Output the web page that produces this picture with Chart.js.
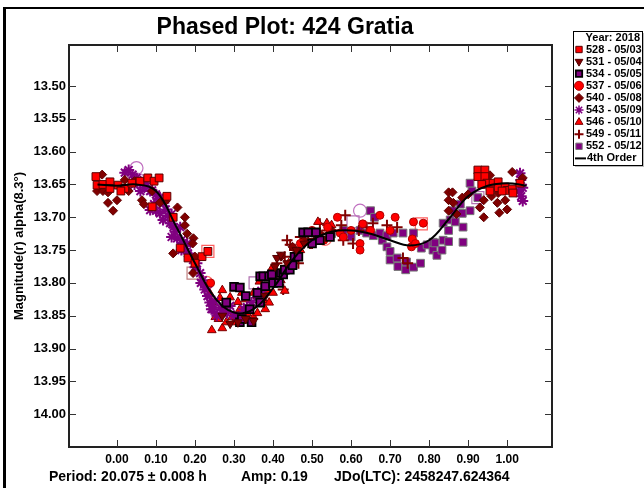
<!DOCTYPE html>
<html>
<head>
<meta charset="utf-8">
<script src="https://cdn.jsdelivr.net/npm/chart.js"></script>
<style>
  html, body { margin: 0; padding: 0; background: #fff; }
  #wrap { width: 644px; height: 488px; }
</style>
</head>
<body>
<div id="wrap"><canvas id="chart" width="644" height="488"></canvas></div>
<script>
// axis ticks
const xTicks = [0.00, 0.10, 0.20, 0.30, 0.40, 0.50, 0.60, 0.70, 0.80, 0.90, 1.00];
const yTicks = [13.50, 13.55, 13.60, 13.65, 13.70, 13.75, 13.80, 13.85, 13.90, 13.95, 14.00];

// legend labels
const legendTitle = 'Year: 2018';
const sessionLabels = ['528 - 05/03', '531 - 05/04', '534 - 05/05', '537 - 05/06', '540 - 05/08',
    '543 - 05/09', '546 - 05/10', '549 - 05/11', '552 - 05/12'];
const fitLabel = '4th Order';

// [phase, magnitude] per session
const s528 = [[-0.054,13.638],[-0.051,13.651],[-0.036,13.650],[-0.018,13.646],[-0.018,13.656],[0.003,13.651],
    [0.020,13.656],[0.010,13.660],[0.038,13.648],[0.059,13.645],[0.079,13.640],[0.095,13.645],[0.108,13.640],
    [0.090,13.684],[0.128,13.668],[0.144,13.700],[0.162,13.747],[0.182,13.762],[0.218,13.760],[0.233,13.752],
    [0.200,13.770],[0.925,13.628],[0.943,13.628],[0.925,13.638],[0.943,13.638],[0.948,13.648],[0.964,13.648],
    [0.977,13.646],[0.977,13.655],[0.995,13.654],[1.000,13.659],[1.013,13.657],[1.033,13.648],[1.015,13.663],
    [0.987,13.660],[0.956,13.660],[0.935,13.650]];
const s531 = [[0.270,13.850],[0.290,13.862],[0.310,13.860],[0.330,13.855],[0.350,13.858],[0.380,13.820],
    [0.405,13.775],[0.410,13.762],[0.420,13.757],[0.436,13.770],[0.460,13.750],[0.480,13.740]];
const s534 = [[0.280,13.830],[0.300,13.806],[0.315,13.807],[0.315,13.860],[0.320,13.855],[0.330,13.820],
    [0.340,13.840],[0.345,13.860],[0.360,13.815],[0.367,13.790],[0.367,13.830],[0.375,13.790],[0.380,13.805],
    [0.390,13.790],[0.397,13.787],[0.400,13.800],[0.415,13.800],[0.420,13.785],[0.426,13.787],[0.430,13.780],
    [0.443,13.780],[0.450,13.773],[0.455,13.760],[0.465,13.760],[0.477,13.723],[0.490,13.723],[0.500,13.740],
    [0.510,13.723],[0.520,13.735],[0.546,13.730]];
const s537 = [[0.240,13.800],[0.470,13.740],[0.500,13.720],[0.530,13.735],[0.540,13.715],[0.565,13.700],
    [0.572,13.724],[0.580,13.730],[0.600,13.720],[0.623,13.740],[0.623,13.750],[0.630,13.710],[0.650,13.720],
    [0.674,13.697],[0.700,13.720],[0.713,13.700],[0.755,13.745],[0.757,13.733],[0.760,13.707],[0.765,13.740],
    [0.785,13.709]];
const s540 = [[-0.051,13.660],[-0.038,13.635],[-0.036,13.660],[-0.023,13.662],[-0.023,13.678],[-0.010,13.690],
    [0.000,13.674],[0.020,13.643],[0.030,13.660],[0.045,13.645],[0.064,13.674],[0.069,13.680],[0.090,13.660],
    [0.110,13.678],[0.125,13.675],[0.144,13.755],[0.155,13.685],[0.174,13.700],[0.174,13.712],[0.180,13.725],
    [0.196,13.732],[0.194,13.740],[0.200,13.760],[0.195,13.785],[0.420,13.760],[0.450,13.745],[0.460,13.755],
    [0.480,13.735],[0.520,13.725],[0.550,13.720],[0.850,13.662],[0.860,13.662],[0.850,13.674],[0.862,13.678],
    [0.850,13.690],[0.870,13.695],[0.885,13.670],[0.900,13.665],[0.930,13.685],[0.940,13.674],[0.940,13.700],
    [0.956,13.636],[0.958,13.658],[0.960,13.668],[0.977,13.663],[0.975,13.678],[0.980,13.693],[0.995,13.674],
    [1.000,13.688],[1.013,13.631],[1.040,13.640]];
const s543 = [[0.020,13.632],[0.030,13.628],[0.040,13.635],[0.050,13.640],[0.045,13.650],[0.060,13.645],
    [0.060,13.660],[0.070,13.655],[0.075,13.648],[0.085,13.660],[0.090,13.659],[0.100,13.665],[0.105,13.672],
    [0.110,13.670],[0.120,13.678],[0.125,13.688],[0.085,13.689],[0.095,13.680],[0.100,13.690],[0.110,13.694],
    [0.118,13.704],[0.130,13.698],[0.136,13.709],[0.140,13.695],[0.140,13.730],[0.145,13.715],[0.149,13.722],
    [0.154,13.732],[0.162,13.715],[0.165,13.735],[0.165,13.750],[0.170,13.739],[0.175,13.748],[0.180,13.740],
    [0.182,13.755],[0.190,13.760],[0.195,13.765],[0.200,13.776],[0.205,13.770],[0.213,13.785],[0.215,13.800],
    [0.220,13.796],[0.225,13.810],[0.230,13.806],[0.232,13.820],[0.238,13.830],[0.242,13.840],[0.246,13.840],
    [0.250,13.828],[0.256,13.850],[0.265,13.838],[0.270,13.845],[0.282,13.846],[0.290,13.835],[0.300,13.850],
    [0.315,13.852],[0.325,13.840],[0.333,13.837],[0.345,13.830],[0.360,13.822],[0.370,13.812],[1.033,13.633],
    [1.035,13.643],[1.030,13.660],[1.040,13.655],[1.036,13.668],[1.040,13.675]];
const s546 = [[0.238,13.816],[0.243,13.829],[0.252,13.852],[0.243,13.872],[0.260,13.855],[0.264,13.823],
    [0.270,13.811],[0.270,13.869],[0.275,13.840],[0.280,13.860],[0.282,13.834],[0.290,13.822],[0.295,13.852],
    [0.300,13.860],[0.310,13.829],[0.315,13.840],[0.310,13.852],[0.320,13.815],[0.330,13.825],[0.333,13.846],
    [0.336,13.857],[0.345,13.834],[0.350,13.852],[0.350,13.815],[0.360,13.846],[0.360,13.820],[0.365,13.798],
    [0.375,13.826],[0.380,13.840],[0.387,13.811],[0.390,13.830],[0.387,13.793],[0.395,13.780],[0.400,13.815],
    [0.410,13.799],[0.420,13.796],[0.426,13.780],[0.430,13.812],[0.440,13.770],[0.450,13.765],[0.470,13.750],
    [0.480,13.738],[0.500,13.722],[0.515,13.707],[0.538,13.709],[0.550,13.712]];
const s549 = [[0.410,13.770],[0.426,13.810],[0.430,13.760],[0.436,13.735],[0.444,13.742],[0.455,13.750],
    [0.465,13.770],[0.470,13.730],[0.490,13.725],[0.495,13.740],[0.500,13.740],[0.505,13.733],[0.520,13.710],
    [0.538,13.720],[0.550,13.720],[0.575,13.712],[0.580,13.735],[0.585,13.697],[0.605,13.740],[0.620,13.720],
    [0.640,13.715],[0.656,13.709],[0.692,13.712],[0.718,13.715],[0.733,13.762],[0.745,13.770]];
const s552 = [[0.550,13.725],[0.580,13.720],[0.600,13.730],[0.623,13.720],[0.640,13.724],[0.650,13.690],
    [0.657,13.728],[0.660,13.700],[0.674,13.724],[0.680,13.735],[0.692,13.728],[0.692,13.745],[0.700,13.752],
    [0.700,13.765],[0.708,13.724],[0.718,13.762],[0.720,13.775],[0.733,13.724],[0.740,13.780],[0.742,13.768],
    [0.760,13.724],[0.760,13.776],[0.778,13.770],[0.780,13.747],[0.795,13.742],[0.810,13.750],[0.810,13.738],
    [0.815,13.739],[0.820,13.758],[0.833,13.750],[0.836,13.709],[0.836,13.735],[0.850,13.737],[0.850,13.720],
    [0.854,13.704],[0.860,13.690],[0.867,13.707],[0.880,13.680],[0.885,13.694],[0.887,13.715],[0.887,13.738],
    [0.905,13.690],[0.905,13.648],[0.910,13.660],[0.925,13.670]];

// rejected points (drawn hollow)
const rejRedSq = [[0.233,13.752],[0.780,13.710]];
const rejBrownSq = [[0.195,13.785]];
const rejRedCirc = [[0.230,13.800],[0.533,13.733]];
const rejPurpleCirc = [[0.050,13.625],[0.055,13.643],[0.623,13.690]];
const rejPurpleSq = [[0.354,13.800],[0.605,13.707],[0.925,13.670]];

// 4th order fit
const fitPhase = [-0.05, 0.00, 0.05, 0.10, 0.15, 0.20, 0.25, 0.30, 0.35, 0.40, 0.45, 0.50,
    0.55, 0.60, 0.65, 0.70, 0.75, 0.80, 0.85, 0.90, 0.95, 1.00, 1.05];
const fitMag = [13.650, 13.652, 13.650, 13.660, 13.712, 13.770, 13.822, 13.845, 13.840, 13.808, 13.765, 13.735,
    13.722, 13.720, 13.725, 13.735, 13.743, 13.735, 13.703, 13.668, 13.652, 13.648, 13.652];

const FONT = '"Liberation Sans", Arial, sans-serif';

const toXY = arr => arr.map(p => ({ x: p[0], y: p[1] }));

function pointSet(label, data, style) {
    return Object.assign({
        label: label,
        data: toXY(data),
        showLine: false,
        pointHoverRadius: 0
    }, style);
}

const sessionStyles = [
    { pointStyle: 'rect', pointRadius: 5.5, backgroundColor: '#ff0000', borderColor: '#5a0000', pointBorderWidth: 1 },
    { pointStyle: 'triangle', pointRotation: 180, pointRadius: 5, backgroundColor: '#800000', borderColor: '#500000', pointBorderWidth: 1 },
    { pointStyle: 'rect', pointRadius: 5.5, backgroundColor: '#800080', borderColor: '#000000', pointBorderWidth: 1.8 },
    { pointStyle: 'circle', pointRadius: 4, backgroundColor: '#ff0000', borderColor: '#b00000', pointBorderWidth: 1 },
    { pointStyle: 'rectRot', pointRadius: 4.5, backgroundColor: '#800000', borderColor: '#600000', pointBorderWidth: 1 },
    { pointStyle: 'star', pointRadius: 5.5, backgroundColor: '#800080', borderColor: '#800080', pointBorderWidth: 2 },
    { pointStyle: 'triangle', pointRadius: 5, backgroundColor: '#ff0000', borderColor: '#7a0000', pointBorderWidth: 1 },
    { pointStyle: 'cross', pointRadius: 5.5, backgroundColor: '#800000', borderColor: '#800000', pointBorderWidth: 2 },
    { pointStyle: 'rect', pointRadius: 5.5, backgroundColor: '#800080', borderColor: '#777777', pointBorderWidth: 1 }
];
const sessionData = [s528, s531, s534, s537, s540, s543, s546, s549, s552];

const hollow = (style, color, r) => ({ pointStyle: style, pointRadius: r, backgroundColor: 'rgba(0,0,0,0)',
    borderColor: color, pointBorderWidth: 1.2 });

const datasets = [];
datasets.push({
    label: fitLabel,
    data: fitPhase.map((p, i) => ({ x: p, y: fitMag[i] })),
    showLine: true,
    borderColor: '#000',
    borderWidth: 2,
    pointRadius: 0,
    tension: 0.4,
    order: -1
});
sessionData.forEach((d, i) => datasets.push(pointSet(sessionLabels[i], d, sessionStyles[i])));
datasets.push(pointSet('', rejRedSq, hollow('rect', '#ff6060', 8.5)));
datasets.push(pointSet('', rejBrownSq, hollow('rect', '#c08080', 8.5)));
datasets.push(pointSet('', rejRedCirc, hollow('circle', '#ff7070', 6.5)));
datasets.push(pointSet('', rejPurpleCirc, hollow('circle', '#c070c0', 6.5)));
datasets.push(pointSet('', rejPurpleSq, hollow('rect', '#b070b0', 8.5)));

// frame, title, footer, inward ticks and boxed legend
const decor = {
    id: 'decor',
    afterDraw(chart) {
        const ctx = chart.ctx;
        const a = chart.chartArea;
        const xs = chart.scales.x, ys = chart.scales.y;
        ctx.save();

        ctx.fillStyle = '#000';
        ctx.fillRect(3, 7, 3, 481);
        ctx.fillRect(3, 7, 641, 2);

        ctx.strokeStyle = '#222';
        ctx.lineWidth = 2;
        ctx.strokeRect(a.left, a.top, a.right - a.left, a.bottom - a.top);

        ctx.lineWidth = 1;
        ctx.strokeStyle = '#333';
        ctx.beginPath();
        ys.ticks.forEach(t => {
            const y = Math.round(ys.getPixelForValue(t.value)) + 0.5;
            ctx.moveTo(a.left, y); ctx.lineTo(a.left + 7, y);
            ctx.moveTo(a.right, y); ctx.lineTo(a.right - 7, y);
        });
        xs.ticks.forEach(t => {
            const x = Math.round(xs.getPixelForValue(t.value)) + 0.5;
            ctx.moveTo(x, a.top); ctx.lineTo(x, a.top + 7);
            ctx.moveTo(x, a.bottom); ctx.lineTo(x, a.bottom - 7);
        });
        ctx.stroke();

        ctx.fillStyle = '#000';
        ctx.textBaseline = 'middle';
        ctx.textAlign = 'center';
        ctx.font = 'bold 23px ' + FONT;
        ctx.fillText('Phased Plot: 424 Gratia', 285, 28);

        ctx.textAlign = 'left';
        ctx.font = 'bold 14px ' + FONT;
        ctx.fillText('Period: 20.075 \u00b1 0.008 h', 49, 477);
        ctx.fillText('Amp: 0.19', 241, 477);
        ctx.fillText('JDo(LTC): 2458247.624364', 334, 477);

        // legend box
        const lx = 573, ly = 31, lw = 69, lh = 134;
        ctx.fillStyle = '#bbb';
        ctx.fillRect(lx + 2, ly + 2, lw, lh);
        ctx.fillStyle = '#fff';
        ctx.fillRect(lx, ly, lw, lh);
        ctx.strokeStyle = '#000';
        ctx.lineWidth = 1;
        ctx.strokeRect(lx + 0.5, ly + 0.5, lw, lh);

        ctx.fillStyle = '#000';
        ctx.font = 'bold 11px ' + FONT;
        ctx.textAlign = 'right';
        ctx.fillText(legendTitle, 640, 38);
        ctx.textAlign = 'left';
        const rowH = 12.1;
        sessionLabels.forEach((lab, i) => {
            const y = 49.5 + i * rowH;
            const st = sessionStyles[i];
            ctx.fillStyle = st.backgroundColor;
            ctx.strokeStyle = st.borderColor;
            ctx.lineWidth = st.pointStyle === 'star' ? 1.5 : st.pointBorderWidth;
            Chart.helpers.drawPoint(ctx, {
                pointStyle: st.pointStyle,
                rotation: st.pointRotation || 0,
                radius: 4.5,
                borderWidth: ctx.lineWidth
            }, 579, y);
            ctx.fillStyle = '#000';
            ctx.fillText(lab, 586, y);
        });
        const fy = 49.5 + sessionLabels.length * rowH;
        ctx.strokeStyle = '#000';
        ctx.lineWidth = 2;
        ctx.beginPath();
        ctx.moveTo(575, fy); ctx.lineTo(586, fy);
        ctx.stroke();
        ctx.fillText(fitLabel, 587, fy);

        ctx.restore();
    }
};

new Chart(document.getElementById('chart'), {
    type: 'scatter',
    data: { datasets: datasets },
    options: {
        responsive: false,
        animation: false,
        layout: { padding: { top: 45, right: 92, left: 0, bottom: 0 } },
        plugins: {
            legend: { display: false },
            tooltip: { enabled: false },
            title: { display: false }
        },
        scales: {
            x: {
                type: 'linear',
                min: -0.123,
                max: 1.115,
                grid: { display: false, drawTicks: false },
                border: { display: false },
                afterBuildTicks: s => { s.ticks = xTicks.map(v => ({ value: v })); },
                afterFit: s => { s.height = 41; },
                ticks: {
                    padding: 5,
                    color: '#000',
                    maxRotation: 0,
                    font: { family: FONT, size: 12, weight: 'bold' },
                    callback: v => Number(v).toFixed(2)
                }
            },
            y: {
                type: 'linear',
                reverse: true,
                min: 13.4375,
                max: 14.05,
                grid: { display: false, drawTicks: false },
                border: { display: false },
                afterBuildTicks: s => { s.ticks = yTicks.map(v => ({ value: v })); },
                afterFit: s => { s.width = 69; },
                title: {
                    display: true,
                    text: 'Magnitude(r) alpha(8.3\u00b0)',
                    color: '#000',
                    padding: { top: 12, bottom: 0 },
                    font: { family: FONT, size: 13, weight: 'bold' }
                },
                ticks: {
                    padding: 3,
                    color: '#000',
                    font: { family: FONT, size: 13, weight: 'bold' },
                    callback: v => Number(v).toFixed(2)
                }
            }
        }
    },
    plugins: [decor]
});
</script>
</body>
</html>
